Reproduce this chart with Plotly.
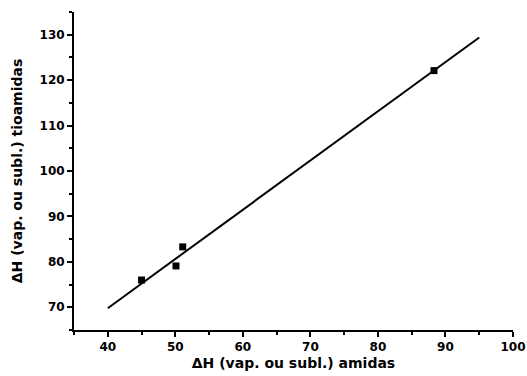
import plotly.graph_objects as go

amidas = [45.0, 50.1, 51.1, 88.3]
tioamidas = [76.0, 79.1, 83.3, 122.1]
fit_x = [40, 95]
fit_y = [69.8, 129.4]

x_ticks = [40, 50, 60, 70, 80, 90, 100]
y_ticks = [70, 80, 90, 100, 110, 120, 130]

fig = go.Figure()
fig.add_trace(go.Scatter(x=fit_x, y=fit_y, mode="lines",
                         line=dict(color="black", width=2), showlegend=False))
fig.add_trace(go.Scatter(x=amidas, y=tioamidas, mode="markers",
                         marker=dict(symbol="square", size=7, color="black"),
                         showlegend=False))

font_fam = "DejaVu Sans, Arial, sans-serif"
fig.update_layout(
    width=527, height=376,
    margin=dict(l=74, r=14, t=12, b=46),
    paper_bgcolor="white", plot_bgcolor="white",
    font=dict(family=font_fam, color="black"),
    xaxis=dict(range=[35, 100], tickvals=x_ticks, ticktext=[str(v) for v in x_ticks],
               automargin=False, ticklabeloverflow="allow",
               showgrid=False, zeroline=False, showline=True, linecolor="black", linewidth=2,
               ticks="outside", ticklen=5, tickwidth=2, tickcolor="black",
               tickfont=dict(size=12, family=font_fam, weight="bold"),
               minor=dict(dtick=5, tick0=35, ticks="outside", ticklen=3, tickwidth=1.5, tickcolor="black"),
               title=dict(text="ΔH (vap. ou subl.) amidas", font=dict(size=14, weight="bold"), standoff=5)),
    yaxis=dict(range=[65, 135], tickvals=y_ticks, ticktext=[str(v) for v in y_ticks],
               automargin=False,
               showgrid=False, zeroline=False, showline=True, linecolor="black", linewidth=2,
               ticks="outside", ticklen=5, tickwidth=2, tickcolor="black",
               tickfont=dict(size=12, family=font_fam, weight="bold"),
               minor=dict(dtick=5, tick0=65, ticks="outside", ticklen=3, tickwidth=1.5, tickcolor="black"),
               title=dict(text="ΔH (vap. ou subl.) tioamidas", font=dict(size=14, weight="bold"), standoff=14)),
)
fig.write_html("out.html", config={"displayModeBar": False},
               post_script="document.body.style.margin='0';document.body.style.overflow='hidden';")
